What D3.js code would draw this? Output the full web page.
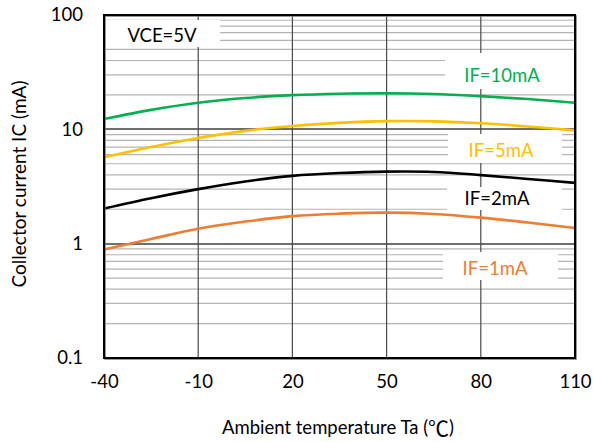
<!DOCTYPE html>
<html><head><meta charset="utf-8">
<script src="https://cdn.jsdelivr.net/npm/d3@7"></script>
<style>body{margin:0;background:#fff}svg{display:block;font-family:Lato,"Open Sans",sans-serif}</style>
</head><body><svg id="c" width="593" height="442"></svg>
<script>
const temps = [-40, -25, -10, 5, 20, 35, 50, 65, 80, 95, 110];
const if10 = [12.3, 14.8, 17.1, 18.8, 19.9, 20.5, 20.7, 20.4, 19.5, 18.4, 17.1];
const if5  = [5.7, 7.0, 8.4, 9.7, 10.7, 11.4, 11.8, 11.75, 11.3, 10.6, 9.8];
const if2  = [2.03, 2.5, 3.0, 3.5, 3.92, 4.15, 4.27, 4.24, 3.98, 3.68, 3.4];
const if1  = [0.89, 1.1, 1.35, 1.56, 1.74, 1.83, 1.87, 1.82, 1.69, 1.53, 1.37];
const seriesNames = ["IF=10mA", "IF=5mA", "IF=2mA", "IF=1mA"];
const seriesColors = ["#00b050", "#ffc000", "#000000", "#ed7d31"];
const xTicks = [-40, -10, 20, 50, 80, 110];
const xTickLabels = ["-40", "-10", "20", "50", "80", "110"];
const yTicks = [0.1, 1, 10, 100];
const yTickLabels = ["0.1", "1", "10", "100"];
const xTitle = "Ambient temperature Ta (";
const xTitleUnit = "\u2103";
const yTitle = "Collector current IC (mA)";
const condition = "VCE=5V";

const svg = d3.select("#c");
const L = 104, R = 575, T = 15, B = 358;
const x = d3.scaleLinear().domain([-40, 110]).range([L, R]);
const y = d3.scaleLog().domain([0.1, 100]).range([B, T]);

// minor grid
const minors = [];
[0.1, 1, 10].forEach(d => { for (let k = 2; k <= 9; k++) minors.push(d * k); });
svg.append("g").selectAll("line").data(minors).join("line")
  .attr("x1", L).attr("x2", R).attr("y1", d => y(d)).attr("y2", d => y(d))
  .attr("stroke", "#b4b4b4").attr("stroke-width", 1.2);

// major horizontal grid
svg.append("g").selectAll("line").data([1, 10]).join("line")
  .attr("x1", L).attr("x2", R).attr("y1", d => Math.round(y(d))).attr("y2", d => Math.round(y(d)))
  .attr("stroke", "#6e6e6e").attr("stroke-width", 2);

// vertical grid
svg.append("g").selectAll("line").data(xTicks.slice(1, -1)).join("line")
  .attr("x1", d => x(d)).attr("x2", d => x(d)).attr("y1", T).attr("y2", B)
  .attr("stroke", "#4a4a4a").attr("stroke-width", 1.2);

// label boxes (white backgrounds)
const boxes = [
  {x0: 106, x1: 220, y0: 20, y1: 47},
  {x0: 445, x1: 574, y0: 53, y1: 89},
  {x0: 448, x1: 562, y0: 134, y1: 163},
  {x0: 447, x1: 562, y0: 187, y1: 210},
  {x0: 443, x1: 558, y0: 252, y1: 280}
];
svg.append("g").selectAll("rect").data(boxes).join("rect")
  .attr("x", d => d.x0).attr("y", d => d.y0).attr("width", d => d.x1 - d.x0).attr("height", d => d.y1 - d.y0)
  .attr("fill", "#fff");

// curves
const all = [if10, if5, if2, if1];
const line = d3.line().x((d, i) => x(temps[i])).y(d => y(d)).curve(d3.curveCatmullRom.alpha(0.5));
svg.append("g").selectAll("path").data(all).join("path")
  .attr("d", d => line(d)).attr("fill", "none")
  .attr("stroke", (d, i) => seriesColors[i]).attr("stroke-width", 2.6);

// frame
svg.append("rect").attr("x", L + 1).attr("y", T + 1).attr("width", R - L).attr("height", B - T)
  .attr("fill", "none").attr("stroke", "#777").attr("stroke-width", 1.5);
svg.append("rect").attr("x", L).attr("y", T).attr("width", R - L).attr("height", B - T)
  .attr("fill", "none").attr("stroke", "#000").attr("stroke-width", 2);

// series labels
const labelPos = [{x: 502, y: 75}, {x: 501, y: 150}, {x: 497, y: 198}, {x: 495, y: 268}];
svg.append("g").selectAll("text").data(seriesNames).join("text")
  .attr("x", (d, i) => labelPos[i].x).attr("y", (d, i) => labelPos[i].y)
  .attr("text-anchor", "middle").attr("dominant-baseline", "central")
  .attr("font-size", 18.5).attr("fill", (d, i) => seriesColors[i]).text(d => d);

svg.append("text").attr("x", 162).attr("y", 35).attr("text-anchor", "middle")
  .attr("dominant-baseline", "central").attr("font-size", 18.5).text(condition);

// axes
const yAxis = d3.axisLeft(y).tickValues(yTicks).tickFormat((d, i) => yTickLabels[i]).tickSize(0).tickPadding(21);
const gy = svg.append("g").attr("transform", `translate(${L},0)`).call(yAxis);
gy.select(".domain").remove();
gy.selectAll("text").attr("font-size", 18.5).attr("font-family", "Lato, sans-serif").attr("fill", "#000");

const xAxis = d3.axisBottom(x).tickValues(xTicks).tickFormat((d, i) => xTickLabels[i]).tickSize(0).tickPadding(17);
const gx = svg.append("g").attr("transform", `translate(0,${B})`).call(xAxis);
gx.select(".domain").remove();
gx.selectAll("text").attr("font-size", 18.5).attr("font-family", "Lato, sans-serif").attr("fill", "#000");

const xt = svg.append("text").attr("x", 338).attr("y", 427).attr("text-anchor", "middle")
  .attr("dominant-baseline", "central").attr("font-size", 18.5);
xt.append("tspan").text(xTitle);
xt.append("tspan").attr("font-family", "'Noto Sans CJK JP'").attr("font-size", 21).text(xTitleUnit);
xt.append("tspan").text(")");
svg.append("text").attr("transform", "translate(18,184) rotate(-90)").attr("text-anchor", "middle")
  .attr("dominant-baseline", "central").attr("font-size", 19).text(yTitle);
</script></body></html>
